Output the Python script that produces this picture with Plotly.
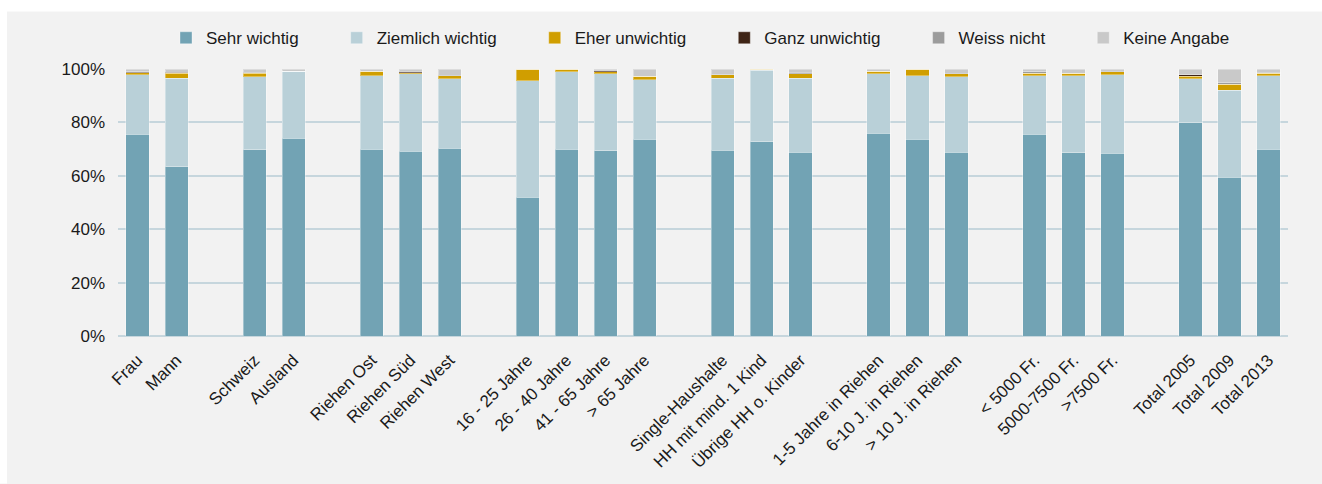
import plotly.graph_objects as go

categories = ["Frau", "Mann",
              "Schweiz", "Ausland",
              "Riehen Ost", "Riehen Süd", "Riehen West",
              "16 - 25 Jahre", "26 - 40 Jahre", "41 - 65 Jahre", "> 65 Jahre",
              "Single-Haushalte", "HH mit mind. 1 Kind", "Übrige HH o. Kinder",
              "1-5 Jahre in Riehen", "6-10 J. in Riehen", "> 10 J. in Riehen",
              "< 5000 Fr.", "5000-7500 Fr.", ">7500 Fr.",
              "Total 2005", "Total 2009", "Total 2013"]
group_sizes = [2, 2, 3, 4, 3, 3, 3, 3]

sehr_wichtig     = [75.5, 63.3, 69.8, 74.0, 70.0, 69.2, 70.4, 52.0, 70.0, 69.3, 73.7, 69.6, 72.7, 68.8, 76.0, 73.7, 68.8, 75.5, 68.6, 68.5, 79.8, 59.5, 70.0]
ziemlich_wichtig = [22.3, 33.3, 27.3, 25.1, 27.4, 29.0, 26.0, 43.6, 29.0, 29.0, 22.3, 27.0, 26.8, 27.7, 22.2, 23.8, 28.3, 22.0, 28.9, 29.4, 16.6, 32.5, 27.4]
eher_unwichtig   = [0.8, 1.9, 1.4, 0.0, 1.7, 0.4, 1.1, 4.4, 1.0, 0.6, 1.2, 1.2, 0.5, 1.8, 0.9, 2.5, 1.1, 0.9, 1.0, 1.1, 0.9, 2.2, 1.0]
ganz_unwichtig   = [0.2, 0.2, 0.1, 0.0, 0.0, 0.4, 0.0, 0.0, 0.0, 0.4, 0.0, 0.1, 0.0, 0.0, 0.0, 0.0, 0.1, 0.0, 0.0, 0.0, 0.5, 0.1, 0.0]
weiss_nicht      = [0.2, 0.0, 0.1, 0.0, 0.0, 0.2, 0.1, 0.0, 0.0, 0.2, 0.1, 0.0, 0.0, 0.4, 0.0, 0.0, 0.1, 0.6, 0.0, 0.1, 0.1, 0.6, 0.4]
keine_angabe     = [1.0, 1.3, 1.3, 0.9, 0.9, 0.8, 2.4, 0.0, 0.0, 0.5, 2.7, 2.1, 0.0, 1.3, 0.9, 0.0, 1.6, 1.0, 1.5, 0.9, 2.1, 5.1, 1.2]

series_names = ["Sehr wichtig", "Ziemlich wichtig", "Eher unwichtig", "Ganz unwichtig", "Weiss nicht", "Keine Angabe"]
series_values = [sehr_wichtig, ziemlich_wichtig, eher_unwichtig, ganz_unwichtig, weiss_nicht, keine_angabe]
colors = ["#72a3b4", "#b9d0d8", "#d09e00", "#3f2416", "#9c9c9c", "#c9c9c9"]
y_ticks = [0, 20, 40, 60, 80, 100]
y_ticktext = [f"{v}%" for v in y_ticks]

# slot positions: one empty slot between groups
xpos = []
pos = 0
for gs in group_sizes:
    for _ in range(gs):
        xpos.append(pos)
        pos += 1
    pos += 1

PAD = "\u00a0" * 7
fig = go.Figure()
for name, vals, col in zip(series_names, series_values, colors):
    fig.add_trace(go.Bar(
        x=xpos, y=vals, name=name + PAD,
        marker=dict(color=col, line=dict(color="rgba(255,255,255,0.35)", width=1)),
        hovertemplate="%{text}<br>" + name + ": %{y}%<extra></extra>",
        text=categories, textposition="none",
    ))

W, H = 1322, 484
ml, mr, mt, mb = 118, 34, 69, 146
pw, ph = W - ml - mr, H - mt - mb

fig.update_layout(
    width=W, height=H,
    barmode="stack", bargap=0.41,
    margin=dict(l=ml, r=mr, t=mt, b=mb, pad=0),
    paper_bgcolor="#f2f2f2", plot_bgcolor="#f2f2f2",
    font=dict(family="Liberation Sans, Arial, sans-serif", size=17, color="#1a1a1a"),
    showlegend=True,
    legend=dict(orientation="h", x=(166 - ml) / pw, xanchor="left",
                y=1 + (mt - 38) / ph, yanchor="middle",
                bgcolor="rgba(0,0,0,0)", font=dict(size=17), traceorder="normal"),
    xaxis=dict(range=[-0.5, pos - 1.5], tickmode="array", tickvals=xpos, ticktext=categories,
               tickangle=-45, showgrid=False, zeroline=False, showline=False, ticks="",
               ticklabelstandoff=10, fixedrange=True),
    yaxis=dict(range=[0, 100], tickmode="array", tickvals=y_ticks, ticktext=y_ticktext,
               showgrid=True, gridcolor="#c6d6dd", gridwidth=2,
               zeroline=True, zerolinecolor="#c6d6dd", zerolinewidth=2,
               showline=False, ticks="", ticklabelstandoff=12, fixedrange=True),
    shapes=[
        dict(type="rect", xref="paper", yref="paper", layer="below",
             x0=-ml / pw - 0.01, x1=1 + mr / pw + 0.01,
             y0=1 + (mt - 11) / ph, y1=1 + mt / ph + 0.01,
             fillcolor="white", line=dict(width=0)),
        dict(type="rect", xref="paper", yref="paper", layer="below",
             x0=-ml / pw - 0.01, x1=-(ml - 7) / pw,
             y0=-mb / ph - 0.01, y1=1 + mt / ph + 0.01,
             fillcolor="white", line=dict(width=0)),
    ],
)

fig.write_html("out.html", config={"displayModeBar": False},
               post_script="document.body.style.margin='0';document.body.style.overflow='hidden';")
